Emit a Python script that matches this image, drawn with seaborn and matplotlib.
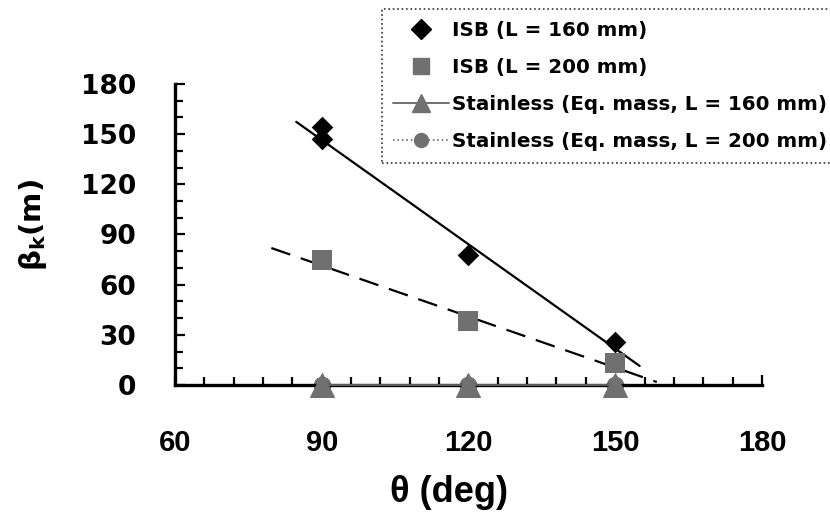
import matplotlib
matplotlib.use("Agg")
import matplotlib.pyplot as plt
from matplotlib.lines import Line2D
from matplotlib.ticker import MultipleLocator
import seaborn as sns

# Measured buckling parameter vs. angle
isb160_theta = [90, 90, 120, 150]
isb160_beta = [154, 147, 78, 25.5]
isb200_theta = [90, 120, 150]
isb200_beta = [75, 38.5, 13.2]
stainless160_theta = [90, 120, 150]
stainless160_beta = [0, 0, 0]
stainless200_theta = [90, 120, 150]
stainless200_beta = [0, 0, 0]

# Linear trend lines (end points)
fit160_theta = [84.8, 155.0]
fit160_beta = [157.3, 11.4]
fit200_theta = [79.7, 158.5]
fit200_beta = [81.9, 1.8]

labels = [
    "ISB (L = 160 mm)",
    "ISB (L = 200 mm)",
    "Stainless (Eq. mass, L = 160 mm)",
    "Stainless (Eq. mass, L = 200 mm)",
]

sns.set_theme(style="white")
plt.rcParams["font.family"] = ["DejaVu Sans"]
plt.rcParams["mathtext.fontset"] = "dejavusans"
for key in ("text.color", "axes.labelcolor", "xtick.color", "ytick.color"):
    plt.rcParams[key] = "black"

fig = plt.figure(figsize=(8.3, 5.21), dpi=100)
ax = fig.add_axes([0.2108, 0.261, 0.7072, 0.578])

gray = "#707070"

# trend lines
sns.lineplot(x=fit160_theta, y=fit160_beta, ax=ax, color="black", lw=1.6,
             estimator=None, sort=False)
sns.lineplot(x=fit200_theta, y=fit200_beta, ax=ax, color="black", lw=1.6,
             estimator=None, sort=False, linestyle=(0, (9, 5)))

# stainless series (sit on the zero line)
sns.lineplot(x=stainless200_theta, y=stainless200_beta, ax=ax, color=gray,
             lw=1.0, linestyle=":", marker="o", markersize=12,
             markeredgecolor=gray, estimator=None, clip_on=False)
sns.lineplot(x=stainless160_theta, y=stainless160_beta, ax=ax, color=gray,
             lw=1.2, marker="^", markersize=17, markeredgecolor=gray,
             estimator=None, clip_on=False, zorder=5)

# ISB series
sns.scatterplot(x=isb200_theta, y=isb200_beta, ax=ax, marker="s", s=15**2,
                color=gray, edgecolor=gray, linewidth=0, zorder=4)
sns.scatterplot(x=isb160_theta, y=isb160_beta, ax=ax, marker="D", s=11**2,
                color="black", edgecolor="black", linewidth=0, zorder=4)

ax.set_xlim(60, 180)
ax.set_ylim(0, 180)
ax.xaxis.set_major_locator(MultipleLocator(30))
ax.xaxis.set_minor_locator(MultipleLocator(6))
ax.yaxis.set_major_locator(MultipleLocator(30))
ax.yaxis.set_minor_locator(MultipleLocator(10))

for side in ("top", "right"):
    ax.spines[side].set_visible(False)
for side in ("left", "bottom"):
    ax.spines[side].set_linewidth(2.4)
    ax.spines[side].set_color("black")

ax.tick_params(which="both", direction="in", color="black", width=1.6,
               left=True, bottom=True)
ax.tick_params(which="major", length=7)
ax.tick_params(which="minor", length=6)
ax.tick_params(axis="y", which="major", pad=28)
ax.tick_params(axis="x", which="major", pad=32)

for lab in ax.get_yticklabels():
    lab.set_fontsize(19)
    lab.set_fontweight("heavy")
for lab in ax.get_xticklabels():
    lab.set_fontsize(21)
    lab.set_fontweight("bold")
    lab.set_family("Liberation Sans")

ax.set_xlabel("θ (deg)", fontsize=26, fontweight="bold", family="Liberation Sans")
ax.xaxis.set_label_coords(0.467, -0.30)
ax.set_ylabel(r"$\mathbf{\beta_k}$(m)", fontsize=21, fontweight="bold")
ax.yaxis.set_label_coords(-0.215, 0.53)

handles = [
    Line2D([], [], linestyle="", marker="D", markersize=10, color="black"),
    Line2D([], [], linestyle="", marker="s", markersize=12, color=gray),
    Line2D([], [], linestyle="-", lw=1.4, marker="^", markersize=13, color=gray),
    Line2D([], [], linestyle=":", lw=1.2, marker="o", markersize=10, color=gray),
]
leg = fig.legend(handles, labels, loc="upper right",
                 bbox_to_anchor=(1.011, 0.982), bbox_transform=fig.transFigure,
                 frameon=True, fancybox=False, handlelength=2.8,
                 handletextpad=0.15, labelspacing=0.9, borderpad=0.6,
                 borderaxespad=0.0,
                 prop={"size": 14.3, "weight": "bold"})
frame = leg.get_frame()
frame.set_edgecolor("black")
frame.set_linestyle(":")
frame.set_linewidth(1.2)

fig.savefig("out.png", dpi=100)
